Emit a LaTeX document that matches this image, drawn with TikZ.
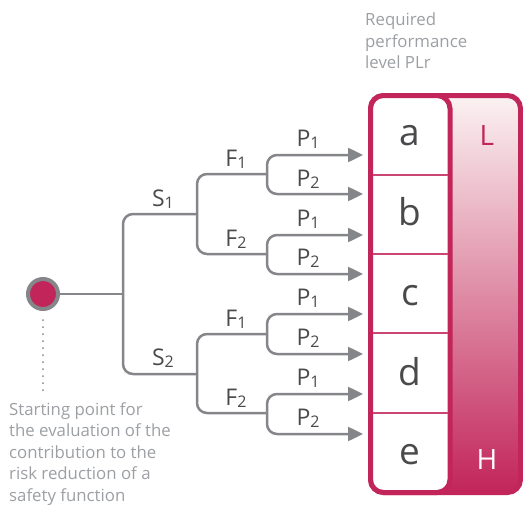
\documentclass[tikz,border=0pt]{standalone}
\usepackage{fontspec}
\setmainfont{Open Sans}
\usetikzlibrary{arrows.meta}
\definecolor{crim}{HTML}{C2255A}
\definecolor{pinktop}{HTML}{FBF2F2}
\definecolor{pinkmid}{HTML}{DD959D}
\definecolor{lgray}{HTML}{85868A}
\definecolor{tgray}{HTML}{9C9FA3}
\definecolor{dgray}{HTML}{4A4A4C}
\newcommand\idx[1]{\raisebox{-2pt}{\fontsize{16}{16}\selectfont #1}}
\begin{document}
\begin{tikzpicture}[x=1pt,y=-1pt,
  conn/.style={draw=lgray,line width=2.5pt,rounded corners=10pt},
  arr/.style={conn,-{Triangle[length=15pt,width=14pt]}},
  lbl/.style={font=\fontsize{23}{23}\selectfont,text=dgray,anchor=base,inner sep=0pt},
  cell/.style={font=\fontsize{37}{37}\selectfont,text=dgray,inner sep=0pt,anchor=base},
  lvl/.style={font=\fontsize{28}{28}\selectfont,inner sep=0pt,anchor=base},
  note/.style={font=\fontsize{16.8}{21.5}\selectfont,text=tgray,align=left,inner sep=0pt,anchor=north west},
  sep/.style={draw=crim!85,line width=1.2pt},
  dots/.style={draw=lgray,line width=2pt,line cap=round,dash pattern=on 0pt off 7pt}
]
\useasboundingbox (0,0) rectangle (523,506);

% right panel
\draw[crim,line width=5pt,rounded corners=13pt,top color=pinktop,middle color=pinkmid,bottom color=crim] (370.5,95.5) rectangle (520.5,492.5);
\draw[crim,line width=5pt,rounded corners=13pt,fill=white] (370.5,95.5) rectangle (450,492.5);
\coordinate (s1l) at (373,175); \coordinate (s1r) at (448,175);
\coordinate (s2l) at (373,254); \coordinate (s2r) at (448,254);
\coordinate (s3l) at (373,333); \coordinate (s3r) at (448,333);
\coordinate (s4l) at (373,413); \coordinate (s4r) at (448,413);
\draw[sep] (s1l) -- (s1r);
\draw[sep] (s2l) -- (s2r);
\draw[sep] (s3l) -- (s3r);
\draw[sep] (s4l) -- (s4r);
\node[cell] (a) at (410,145) {a};
\node[cell] (b) at (410,225) {b};
\node[cell] (c) at (410,305) {c};
\node[cell] (d) at (410,385) {d};
\node[cell] (e) at (410,464) {e};
\node[lvl,text=crim] (L) at (487,145) {L};
\node[lvl,text=white] (H) at (487,469) {H};

\node[note] (req) at (365,13) {Required\\performance\\level PLr};

% start
\node[circle,fill=crim,draw=lgray,line width=4pt,minimum size=30pt,inner sep=0pt] (O) at (43,294) {};
\coordinate (D) at (43,393);
\draw[dots] ([yshift=-9pt]O.south) -- (D);
\node[note] (txt) at (9,402) {Starting point for\\the evaluation of the\\contribution to the\\risk reduction of a\\safety function};

% tree
\coordinate (T) at (123,294);
\coordinate (J1) at (197,214);
\coordinate (J2) at (197,374);
\coordinate (K1) at (267,174);
\coordinate (K2) at (267,254);
\coordinate (K3) at (267,334);
\coordinate (K4) at (267,413);
\coordinate (E1) at (363,155);
\coordinate (E2) at (363,194);
\coordinate (E3) at (363,235);
\coordinate (E4) at (363,274);
\coordinate (E5) at (363,314);
\coordinate (E6) at (363,354);
\coordinate (E7) at (363,394);
\coordinate (E8) at (363,434);

\draw[conn] (O) -- (T);
\draw[conn] (T) |- (J1);
\draw[conn] (T) |- (J2);
\draw[conn] (J1) |- (K1);
\draw[conn] (J1) |- (K2);
\draw[conn] (J2) |- (K3);
\draw[conn] (J2) |- (K4);
\draw[arr] (K1) |- (E1);
\draw[arr] (K1) |- (E2);
\draw[arr] (K2) |- (E3);
\draw[arr] (K2) |- (E4);
\draw[arr] (K3) |- (E5);
\draw[arr] (K3) |- (E6);
\draw[arr] (K4) |- (E7);
\draw[arr] (K4) |- (E8);

% labels
\node[lbl] (S1) at (163,206) {S\idx{1}};
\node[lbl] (S2) at (163,365) {S\idx{2}};
\node[lbl] (F1) at (236,166) {F\idx{1}};
\node[lbl] (F2) at (236,246) {F\idx{2}};
\node[lbl] (F3) at (236,326) {F\idx{1}};
\node[lbl] (F4) at (236,405) {F\idx{2}};
\node[lbl] (P1) at (308,146) {P\idx{1}};
\node[lbl] (P2) at (308,186) {P\idx{2}};
\node[lbl] (P3) at (308,226) {P\idx{1}};
\node[lbl] (P4) at (308,265) {P\idx{2}};
\node[lbl] (P5) at (308,305) {P\idx{1}};
\node[lbl] (P6) at (308,345) {P\idx{2}};
\node[lbl] (P7) at (308,385) {P\idx{1}};
\node[lbl] (P8) at (308,425) {P\idx{2}};
\end{tikzpicture}
\end{document}
